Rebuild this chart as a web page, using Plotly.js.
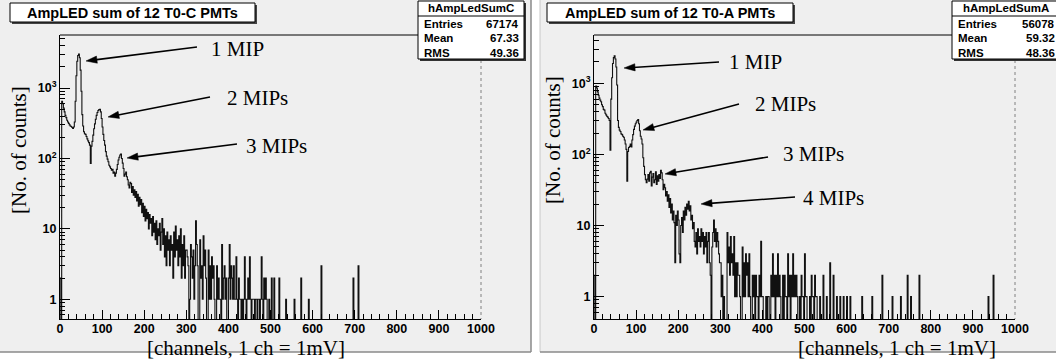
<!DOCTYPE html>
<html><head><meta charset="utf-8">
<script src="https://cdn.plot.ly/plotly-3.0.1.min.js"></script>
<style>html,body{margin:0;padding:0;background:#fff;overflow:hidden;} #chart{width:1056px;height:359px;}</style>
</head><body><div id="chart"></div>
<script>
// ---------------- data ----------------
const binWidth = 2;
const xMax = 1000;
// counts per 2-channel bin, channels 0..299 (T0-C)
const leftCounts = [
  2,0,650,600,520,460,410,380,350,330,
  315,300,290,285,275,268,280,330,650,1500,
  2400,2900,3050,2700,1800,900,420,290,240,225,
  220,205,190,178,168,155,85,150,175,215,
  265,310,360,410,450,480,495,500,460,370,
  280,220,180,155,125,108,98,90,80,76,
  72,68,70,62,64,56,62,70,82,95,
  104,112,116,100,86,72,56,60,64,55,
  50,42,38,46,44,33,40,30,36,28,
  34,25,31,21,28,22,26,17,23,15,
  21,13,19,14,17,10,16,12,14,8,
  15,9,12,7,13,6,10,8,12,5,
  9,14,6,10,4,8,3,9,5,7,
  3,8,5,6,2,9,4,11,5,7,
  3,8,4,10,2,6,3,8,2,5];
// non-empty bins beyond channel 300 (T0-C): bin start channel and count
const leftTailCh = [
  300,302,304,308,310,312,314,316,318,320,
  322,324,326,332,334,336,338,340,342,344,
  346,352,354,356,358,360,362,364,366,372,
  374,376,378,380,384,386,388,390,392,394,
  400,402,404,406,408,410,412,414,416,418,
  420,424,426,428,432,436,438,440,444,446,
  448,450,452,456,458,460,464,466,470,472,
  476,478,480,484,486,488,490,496,502,508,
  520,536,556,572,590,620,696,708];
const leftTailN = [
  5,4,3,1,6,4,2,5,1,3,
  13,6,3,7,2,3,1,8,3,5,
  2,5,1,3,1,4,2,3,1,3,
  1,2,1,1,6,1,2,3,1,2,
  2,6,1,3,2,1,3,1,1,4,
  1,2,1,1,1,1,4,1,1,2,
  1,4,1,1,1,1,1,1,1,1,
  1,4,1,2,1,2,1,1,2,2,
  2,1,1,2,1,3,2,3];
// counts per 2-channel bin, channels 0..299 (T0-A)
const rightCounts = [
  2,0,920,860,760,680,620,580,550,500,
  470,430,420,380,360,345,335,320,300,115,
  600,1200,1900,2300,2450,2200,1700,950,300,240,
  220,210,195,190,180,175,160,140,118,42,
  110,125,130,140,128,160,190,225,250,270,
  285,300,310,270,215,180,165,140,90,68,
  52,44,40,45,52,42,55,58,36,48,
  54,40,44,57,38,50,42,52,46,60,
  55,44,32,38,34,26,30,22,27,18,
  24,15,20,12,16,11,3,14,10,16,
  12,4,3,10,13,8,16,12,18,14,
  20,17,22,16,19,12,14,9,11,6,
  5,8,4,9,6,7,5,9,6,8,
  4,7,5,8,3,6,8,3,2,0,
  5,8,12,6,9,5,8,6,4,3];
// non-empty bins beyond channel 300 (T0-A)
const rightTailCh = [
  300,302,304,308,316,318,320,322,324,326,
  328,330,332,334,336,338,340,342,344,346,
  352,354,356,358,360,362,364,366,368,370,
  376,378,380,384,386,388,392,394,396,398,
  400,408,412,414,420,422,424,426,428,432,
  434,436,438,440,442,448,452,454,456,460,
  462,464,468,470,472,474,476,478,480,482,
  488,492,494,496,500,502,504,512,516,518,
  520,524,526,528,536,544,552,560,568,576,
  584,592,600,608,636,660,684,708,728,744,
  752,772,936,948];
const rightTailN = [
  3,1,2,1,8,3,5,2,7,3,
  4,2,7,1,3,1,3,2,2,1,
  5,1,3,1,4,2,3,1,4,1,
  2,1,2,2,1,1,2,1,6,1,
  1,1,1,1,2,1,4,1,2,2,
  1,4,1,2,1,2,2,1,1,4,
  1,2,2,1,4,1,2,1,2,1,
  1,2,1,1,4,1,1,1,2,1,
  1,2,1,1,1,2,1,3,2,1,
  1,1,1,1,1,1,2,1,1,2,
  1,2,1,2];

const xTickVals = [0,100,200,300,400,500,600,700,800,900,1000];
const xTickText = ['0','100','200','300','400','500','600','700','800','900','1000'];
const yTickVals = [1,10,100,1000];
const yTickText = ['1','10','10<sup>2</sup>','10<sup>3</sup>'];
const yMinorVals = [0.6,0.7,0.8,0.9,2,3,4,5,6,7,8,9,20,30,40,50,60,70,80,90,200,300,400,500,600,700,800,900,2000,3000,4000,5000];

const leftTitle = 'AmpLED sum of 12 T0-C PMTs';
const rightTitle = 'AmpLED sum of 12 T0-A PMTs';
const statLabels = ['Entries','Mean','RMS'];
const leftStatName = 'hAmpLedSumC';
const leftStatVals = ['67174','67.33','49.36'];
const rightStatName = 'hAmpLedSumA';
const rightStatVals = ['56078','59.32','48.36'];
const yTitle = '[No. of counts]';
const xTitle = '[channels, 1 ch = 1mV]';
const leftPeakLabels = ['1 MIP','2 MIPs','3 MIPs'];
const rightPeakLabels = ['1 MIP','2 MIPs','3 MIPs','4 MIPs'];

// ---------------- build ----------------
function buildHist(dense, tailCh, tailN){
  const n = xMax/binWidth;
  const counts = new Array(n).fill(0);
  dense.forEach((v,i)=>{counts[i]=v;});
  tailCh.forEach((c,i)=>{counts[Math.floor(c/binWidth)] = tailN[i];});
  const xs=[], ys=[];
  const floor = 0.05; // empty bins fall below the visible log range
  counts.forEach((v,i)=>{xs.push(i*binWidth); ys.push(v>0?v:floor);});
  xs.push(xMax); ys.push(counts[n-1]>0?counts[n-1]:floor);
  return {xs, ys};
}
const L = buildHist(leftCounts, leftTailCh, leftTailN);
const R = buildHist(rightCounts, rightTailCh, rightTailN);

const W = 1056, H = 359;
const X = p => p/W, Y = p => 1 - p/H;

const traces = [
  {x:L.xs, y:L.ys, xaxis:'x', yaxis:'y', type:'scatter', mode:'lines', line:{color:'#111', width:1.1, shape:'hv'}, hoverinfo:'skip'},
  {x:R.xs, y:R.ys, xaxis:'x2', yaxis:'y2', type:'scatter', mode:'lines', line:{color:'#111', width:1.1, shape:'hv'}, hoverinfo:'skip'}
];

const tickFont = {family:'Liberation Sans, Arial, sans-serif', size:12.5, color:'#000', weight:'bold'};
function xAxis(d0,d1,anchor){
  return {domain:[X(d0),X(d1)], anchor:anchor, range:[0,xMax], tickmode:'array', tickvals:xTickVals, ticktext:xTickText,
    ticks:'inside', ticklen:9, tickwidth:1, tickcolor:'#000', showline:true, linecolor:'#000', linewidth:1,
    showgrid:false, zeroline:false, tickfont:tickFont, fixedrange:true, ticklabelstandoff:-2,
    minor:{ticks:'inside', ticklen:5, tickwidth:1, tickcolor:'#000', dtick:20, tick0:0, showgrid:false}};
}
function yAxis(r0,r1,anchor){
  return {type:'log', domain:[Y(319),Y(35)], anchor:anchor, range:[r0,r1], tickmode:'array', tickvals:yTickVals, ticktext:yTickText,
    ticks:'inside', ticklen:10, tickwidth:1, tickcolor:'#000', showline:true, linecolor:'#000', linewidth:1,
    showgrid:false, zeroline:false, tickfont:tickFont, fixedrange:true,
    minor:{tickmode:'array', tickvals:yMinorVals, ticks:'inside', ticklen:5, tickwidth:1, tickcolor:'#000', showgrid:false}};
}

const shapes = [];
const annotations = [];
function rect(x0,y0,x1,y1,fill,lineColor,lw,layer){
  shapes.push({type:'rect', xref:'paper', yref:'paper', x0:X(x0), x1:X(x1), y0:Y(y1), y1:Y(y0),
    fillcolor:fill, line:{color:lineColor||'rgba(0,0,0,0)', width:lw||0}, layer:layer||'above'});
}
function line(x0,y0,x1,y1,color,lw,dash,layer){
  shapes.push({type:'line', xref:'paper', yref:'paper', x0:X(x0), x1:X(x1), y0:Y(y0), y1:Y(y1),
    line:{color:color, width:lw, dash:dash||'solid'}, layer:layer||'above'});
}
function text(t,x,y,opts){
  annotations.push(Object.assign({text:t, x:X(x), y:Y(y), xref:'paper', yref:'paper', showarrow:false,
    xanchor:'center', yanchor:'middle', font:{family:'Liberation Serif, Times New Roman, serif', size:21, color:'#000'}}, opts||{}));
}
function arrow(tx,ty,hx,hy){
  const dx = hx-tx, dy = hy-ty, len = Math.hypot(dx,dy);
  const ux = dx/len, uy = dy/len, nx = -uy, ny = ux;
  const hl = 11, hw = 3.6;
  const bx = hx-ux*hl, by = hy-uy*hl;
  line(tx,ty,bx+ux*2,by+uy*2,'#000',1.6);
  const p = (a,b)=>X(a)+','+Y(b);
  shapes.push({type:'path', xref:'paper', yref:'paper',
    path:'M'+p(hx,hy)+' L'+p(bx+nx*hw,by+ny*hw)+' L'+p(bx-nx*hw,by-ny*hw)+' Z',
    fillcolor:'#000', line:{color:'#000', width:0.5}, layer:'above'});
}

// panels
rect(0,0,531,352,'#efefef',null,0,'below');
rect(540,0,1056,352,'#efefef',null,0,'below');
line(531,0,531,352,'#8a8a8a',1.5,'solid','below');
line(0,352,531,352,'#8a8a8a',1.5,'solid','below');
line(540,0,540,352,'#c8c8c8',1,'solid','below');
line(540,352,1056,352,'#8a8a8a',1.5,'solid','below');

// frames (top and right edges of the plot areas)
line(60,35,420,35,'#000',1);
line(481,60,481,319,'#808080',1,'dot');
line(594,35,955,35,'#000',1);
line(1015,60,1015,319,'#808080',1,'dot');

// title boxes
function titleBox(x0,x1,t){
  rect(x0+2,5,x1+2,24,'#444');
  rect(x0,3,x1,22,'#ffffff','#000',1);
  text(t,(x0+x1)/2,13,{font:{family:'Liberation Sans, Arial, sans-serif', size:14.5, color:'#000', weight:'bold'}});
}
titleBox(10,255,leftTitle);
titleBox(547,793,rightTitle);

// stats boxes
function statBox(x0,x1,name,vals){
  rect(x0+2,3,x1+2,61,'#333');
  rect(x0,1,x1,59,'#ffffff','#000',1);
  line(x0,16,x1,16,'#000',1);
  const f = {family:'Liberation Sans, Arial, sans-serif', size:11.5, color:'#000', weight:'bold'};
  text(name,(x0+x1)/2,8.5,{font:f});
  statLabels.forEach((s,i)=>{
    text(s,x0+4,24+i*14.3,{font:f, xanchor:'left'});
    text(vals[i],x1-3,24+i*14.3,{font:f, xanchor:'right'});
  });
}
statBox(418,524,leftStatName,leftStatVals);
statBox(952,1060,rightStatName,rightStatVals);

// axis titles
text(yTitle,19,150,{textangle:-90});
text(yTitle,553,140,{textangle:-90});
text(xTitle,246,348);
text(xTitle,897,348);

// peak labels and arrows (left)
text(leftPeakLabels[0],237,49);
arrow(197,47,86,61);
text(leftPeakLabels[1],257,98);
arrow(210,97,108,117);
text(leftPeakLabels[2],276,146);
arrow(237,144,127,158);
// right
text(rightPeakLabels[0],755,62);
arrow(719,62,624,68);
text(rightPeakLabels[1],785,104);
arrow(739,104,643,130);
text(rightPeakLabels[2],813,154);
arrow(768,157,665,174);
text(rightPeakLabels[3],833,198);
arrow(795,197,701,204);

const layout = {
  width:W, height:H, margin:{l:0,r:0,t:0,b:0}, paper_bgcolor:'#ffffff', plot_bgcolor:'rgba(0,0,0,0)',
  showlegend:false, hovermode:false,
  xaxis:xAxis(60,481,'y'), yaxis:yAxis(-0.28,3.754,'x'),
  xaxis2:xAxis(594,1015,'y2'), yaxis2:yAxis(-0.314,3.68,'x2'),
  shapes:shapes, annotations:annotations
};
Plotly.newPlot('chart', traces, layout, {staticPlot:true, displayModeBar:false});
</script>
</body></html>
